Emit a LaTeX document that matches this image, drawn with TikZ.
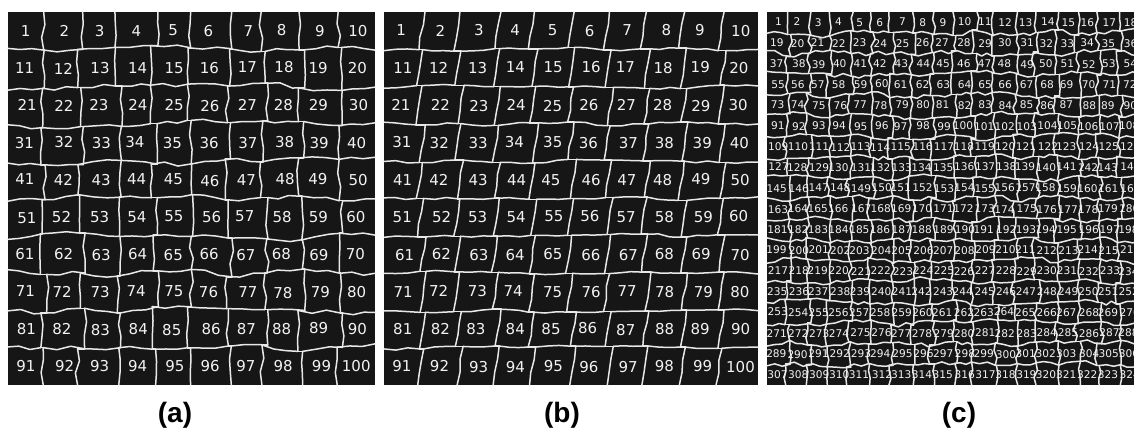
\documentclass[tikz,border=0pt]{standalone}
\usepackage{fontspec}
\setmainfont{DejaVu Sans}
\newfontfamily\capfont{Liberation Sans}
\definecolor{panelbg}{HTML}{161616}
\definecolor{bline}{HTML}{E8E8E8}
\definecolor{numtxt}{HTML}{F2F2F2}
\pgfmathdeclarefunction{hsh}{3}{\pgfmathparse{2*frac(abs(sin(mod(#1*127.1,360)+mod(#2*211.7,360)+#3)*4375.5))-1}}
\pgfmathdeclarefunction{jx}{2}{\pgfmathparse{hsh(#1,#2,13)}}
\pgfmathdeclarefunction{jy}{2}{\pgfmathparse{hsh(#1,#2,71)}}
\pgfmathdeclarefunction{jm}{2}{\pgfmathparse{hsh(#1,#2,157)}}
\tikzset{
  panelbox/.style={fill=panelbg},
  seg/.style={draw=bline, line width=1.5pt, line join=round, line cap=round},
  numbig/.style={text=numtxt, inner sep=0pt, font=\fontsize{15}{16}\selectfont},
  numsmall/.style={text=numtxt, inner sep=0pt, font=\fontsize{10.6}{11}\selectfont},
  caption/.style={inner sep=0pt, font=\capfont\bfseries\fontsize{28}{30}\selectfont},
}
\newcommand\gxt[2]{%
  \ifnum#1=0\relax\edef\res{\PX}\else
  \ifnum#1=\PN\relax\pgfmathsetmacro\res{\PX+\PN*\PW}\else
  \pgfmathsetmacro\res{\PX+#1*\PW+\PAX*jx(#1+\PK,#2+\PK)+\PS}\fi\fi}
\newcommand\gxb[2]{%
  \ifnum#1=0\relax\edef\res{\PX}\else
  \ifnum#1=\PN\relax\pgfmathsetmacro\res{\PX+\PN*\PW}\else
  \pgfmathsetmacro\res{\PX+#1*\PW+\PAX*jx(#1+\PK,#2+\PK)-\PS}\fi\fi}
\newcommand\gy[2]{%
  \ifnum#2=0\relax\edef\res{\PY}\else
  \ifnum#2=\PN\relax\pgfmathsetmacro\res{\PY+\PN*\PH}\else
  \pgfmathsetmacro\res{\PY+#2*\PH+\PAY*jy(#1+\PK,#2+\PK)}\fi\fi}
\newcommand\drawpanel{%
  \fill[panelbox] (\PX,\PY) rectangle ({\PX+\PN*\PW},{\PY+\PN*\PH});
  \pgfmathtruncatemacro\PNm{\PN-1}%
  % vertical boundaries, one piece per row
  \foreach \i in {1,...,\PNm}{\foreach \r in {0,...,\PNm}{%
    \pgfmathtruncatemacro\rp{\r+1}%
    \gxt{\i}{\r}\let\xa\res \gy{\i}{\r}\let\ya\res
    \gxb{\i}{\r}\let\xb\res \gy{\i}{\rp}\let\yb\res
    \pgfmathsetmacro\xp{\xa+(\xb-\xa)/3+\PAM*jm(\i+\PK,\r+\PK+30)}%
    \pgfmathsetmacro\yp{\ya+(\yb-\ya)/3}%
    \pgfmathsetmacro\xq{\xa+2*(\xb-\xa)/3+\PAM*jm(\i+\PK+9,\r+\PK+20)}%
    \pgfmathsetmacro\yq{\ya+2*(\yb-\ya)/3}%
    \draw[seg] (\xa,\ya) -- (\xp,\yp) -- (\xq,\yq) -- (\xb,\yb);
  }}%
  % horizontal boundaries, one piece per column
  \foreach \j in {1,...,\PNm}{\foreach \i in {0,...,\PNm}{%
    \pgfmathtruncatemacro\ip{\i+1}\pgfmathtruncatemacro\jmi{\j-1}%
    \gxt{\i}{\j}\let\xa\res \gy{\i}{\j}\let\ya\res
    \gxb{\ip}{\jmi}\let\xb\res \gy{\ip}{\j}\let\yb\res
    \pgfmathsetmacro\xp{\xa+(\xb-\xa)/3}%
    \pgfmathsetmacro\yp{\ya+(\yb-\ya)/3+\PAM*jm(\i+\PK+17,\j+\PK)}%
    \pgfmathsetmacro\xq{\xa+2*(\xb-\xa)/3}%
    \pgfmathsetmacro\yq{\ya+2*(\yb-\ya)/3+\PAM*jm(\i+\PK+25,\j+\PK+5)}%
    \draw[seg] (\xa,\ya) -- (\xp,\yp) -- (\xq,\yq) -- (\xb,\yb);
    \ifnum\i>0 \gxb{\i}{\jmi}\let\xc\res \draw[seg] (\xc,\ya) -- (\xa,\ya);\fi
  }}%
  % cell numbers
  \foreach \r in {0,...,\PNm}{\foreach \i in {0,...,\PNm}{%
    \pgfmathtruncatemacro\n{\r*\PN+\i+1}%
    \pgfmathsetmacro\cx{\PX+(\i+0.5)*\PW+\PLJ*jm(\i+\PK+7,\r+\PK+3)}%
    \pgfmathsetmacro\cy{\PY+(\r+0.5)*\PH+0.4*\PLJ*jm(\i+\PK+11,\r+\PK+13)}%
    \node[\PStyle] (\PName\n) at (\cx,\cy) {\n};
  }}%
}
\begin{document}
\begin{tikzpicture}[x=1pt,y=-1pt]
\useasboundingbox (0,0) rectangle (1134,430);
\fill[white] (0,0) rectangle (1134,430);
% panel (a)
\def\PX{8}\def\PY{12}\def\PW{36.7}\def\PH{37.3}\def\PN{10}
\def\PAX{4.5}\def\PAY{4}\def\PS{0}\def\PAM{2.2}\def\PK{3}\def\PLJ{2}
\def\PStyle{numbig}\def\PName{a}
\drawpanel
% panel (b)
\def\PX{384}\def\PY{12}\def\PW{37.4}\def\PH{37.3}\def\PN{10}
\def\PAX{2.5}\def\PAY{2}\def\PS{3}\def\PAM{1.2}\def\PK{14}\def\PLJ{2}
\def\PStyle{numbig}\def\PName{b}
\drawpanel
% panel (c)
\begin{scope}
\clip (0,0) rectangle (1134,430);
\def\PX{767}\def\PY{12}\def\PW{20.72}\def\PH{20.72}\def\PN{18}
\def\PAX{3.5}\def\PAY{3.2}\def\PS{0}\def\PAM{2.2}\def\PK{8}\def\PLJ{1.2}
\def\PStyle{numsmall}\def\PName{c}
\drawpanel
\end{scope}
\node[caption] (capa) at (175,415) {(a)};
\node[caption] (capb) at (562,415) {(b)};
\node[caption] (capc) at (959,415) {(c)};
\end{tikzpicture}
\end{document}
